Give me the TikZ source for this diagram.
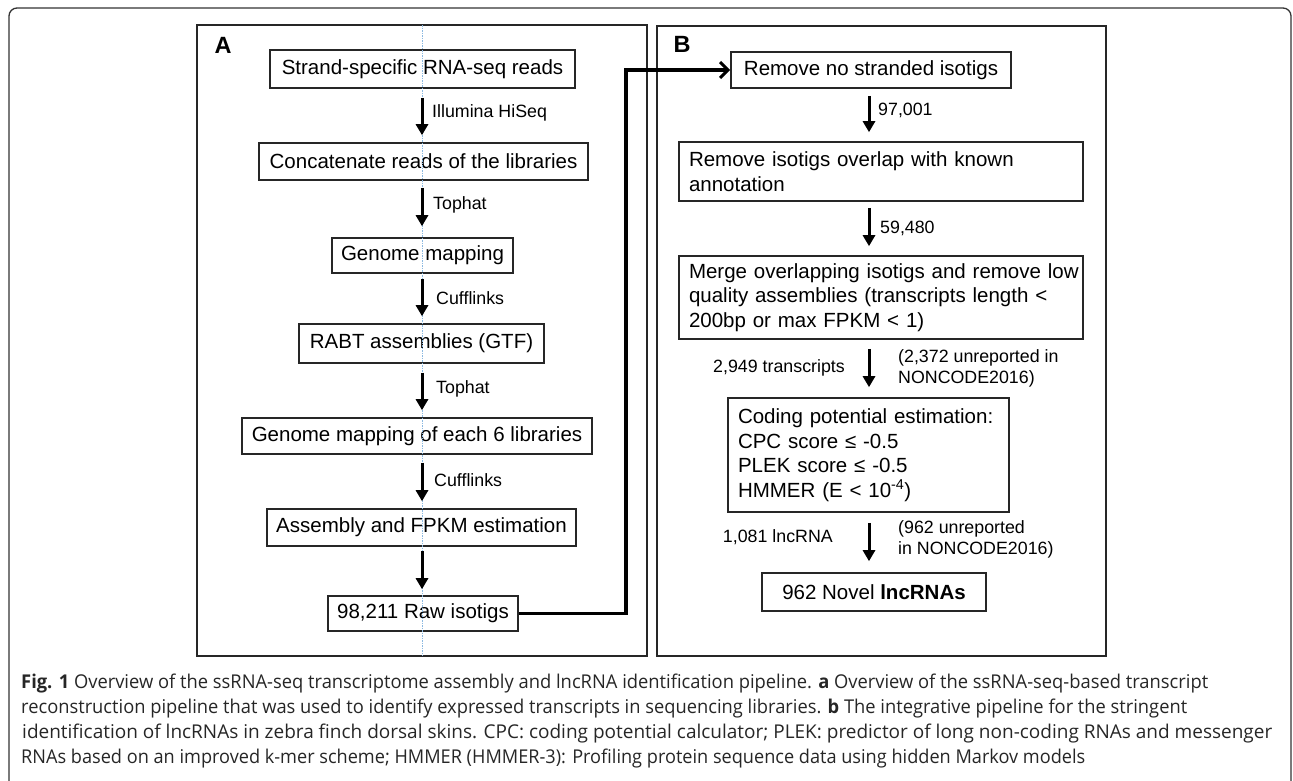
\documentclass[tikz,border=0pt]{standalone}
\usepackage{fontspec}
\setmainfont{Liberation Sans}
\newfontfamily\capfont{Open Sans}
\usepackage{graphicx}
\usetikzlibrary{arrows.meta}
\definecolor{guideblue}{RGB}{140,185,225}
\begin{document}
\begin{tikzpicture}[x=1pt,y=-1pt,
  frame/.style={draw=black!80, line width=1.3pt, rounded corners=8pt},
  panel/.style={draw=black!85, line width=1.8pt},
  box/.style={draw=black!85, line width=1.6pt, inner sep=0pt, font=\fontsize{20.5}{24.5}\selectfont},
  lbox/.style={box, align=left, inner xsep=10pt},
  arr/.style={line width=3pt, -{Triangle[width=12pt,length=11pt]}},
  lab/.style={font=\fontsize{17.8}{21}\selectfont, inner sep=0pt},
  plabel/.style={font=\bfseries\fontsize{23.5}{26}\selectfont, inner sep=0pt},
  link/.style={line width=3.5pt, -{Straight Barb[length=8pt,width=16pt,line width=3pt]}},
  capline/.style={font=\capfont\fontsize{19}{21}\selectfont, text=black!85, inner sep=0pt, anchor=west},
  guide/.style={draw=guideblue, line width=0.5pt, dash pattern=on 1.5pt off 1pt}
]
\useasboundingbox (0,0) rectangle (1293,780);
% outer frame
\draw[frame] (9,790) -- (9,8) -- (1291,8) -- (1291,790);
% panels
\draw[panel] (197,25) rectangle (647,656);
\draw[panel] (657,26) rectangle (1106,656);
\node[plabel] (LA) at (223,45) {A};
\node[plabel] (LB) at (682,44) {B};

\coordinate (ax) at (422,0);
\coordinate (bx) at (869,0);
\coordinate (cx) at (626,0);

% panel A
\node[box, minimum width=305pt, minimum height=38pt] (A1) at (422.5,69) {Strand-specific RNA-seq reads};
\node[box, minimum width=329pt, minimum height=37pt] (A2) at (423.5,161.5) {Concatenate reads of the libraries};
\node[box, minimum width=181pt, minimum height=35pt] (A3) at (422.5,255.5) {Genome mapping};
\node[box, minimum width=245pt, minimum height=39pt] (A4) at (421.5,343.5) {RABT assemblies (GTF)};
\node[box, minimum width=350pt, minimum height=36pt] (A5) at (417,436) {Genome mapping of each 6 libraries};
\node[box, minimum width=309pt, minimum height=37pt] (A6) at (421.5,527.5) {Assembly and FPKM estimation};
\node[box, minimum width=190pt, minimum height=35pt] (A7) at (423,613.5) {98,211 Raw isotigs};

% guide line (under the arrows)
\draw[guide] (422,25) -- (422,656);

\draw[arr, shorten <=9pt, shorten >=7pt] (A1.south -| ax) -- (A2.north -| ax);
\draw[arr, shorten <=7pt, shorten >=11pt] (A2.south -| ax) -- (A3.north -| ax);
\draw[arr, shorten <=5pt, shorten >=7pt] (A3.south -| ax) -- (A4.north -| ax);
\draw[arr, shorten <=9pt, shorten >=7pt] (A4.south -| ax) -- (A5.north -| ax);
\draw[arr, shorten <=8pt, shorten >=7pt] (A5.south -| ax) -- (A6.north -| ax);
\draw[arr, shorten <=4pt, shorten >=6pt] (A6.south -| ax) -- (A7.north -| ax);

\node[lab, anchor=west] (t1) at (432,113) {Illumina HiSeq};
\node[lab, anchor=west] (t2) at (433,205) {Tophat};
\node[lab, anchor=west] (t3) at (436,298) {Cufflinks};
\node[lab, anchor=west] (t4) at (436,389) {Tophat};
\node[lab, anchor=west] (t5) at (434,480) {Cufflinks};

% panel B
\node[box, minimum width=280pt, minimum height=36pt] (B1) at (871,70) {Remove no stranded isotigs};
\node[lbox, text width=384pt, minimum height=59pt] (B2) at (881,171.5) {\mbox{Remove isotigs overlap with known}\\\mbox{annotation}};
\node[lbox, text width=384pt, minimum height=83pt] (B3) at (881,297.5) {\mbox{Merge overlapping isotigs and remove low}\\\mbox{quality assemblies (transcripts length <}\\\mbox{200bp or max FPKM < 1)}};
\node[lbox, text width=261pt, minimum height=114pt] (B4) at (868.5,455) {Coding potential estimation:\\CPC score ≤ -0.5\\PLEK score ≤ -0.5\\HMMER (E < 10\textsuperscript{-4})};
\node[box, minimum width=224pt, minimum height=38pt] (B5) at (874,592) {962 Novel \textbf{lncRNAs}};

\draw[arr, shorten <=7pt, shorten >=9pt] (B1.south -| bx) -- (B2.north -| bx);
\draw[arr, shorten <=6pt, shorten >=9pt] (B2.south -| bx) -- (B3.north -| bx);
\draw[arr, shorten <=9pt, shorten >=10pt] (B3.south -| bx) -- (B4.north -| bx);
\draw[arr, shorten <=10pt, shorten >=11pt] (B4.south -| bx) -- (B5.north -| bx);

\node[lab, anchor=west] (n1) at (878,110) {97,001};
\node[lab, anchor=west] (n2) at (880,228) {59,480};
\node[lab, anchor=east] (n3) at (845,368) {2,949 transcripts};
\node[lab, anchor=west, align=left] (n4) at (898,368.5) {(2,372 unreported in\\NONCODE2016)};
\node[lab, anchor=east] (n5) at (833,537) {1,081 lncRNA};
\node[lab, anchor=west, align=left] (n6) at (898,539.5) {(962 unreported\\in NONCODE2016)};

% connector
\draw[link] (A7.east) -- (A7.east -| cx) -- (cx |- B1.west) -- (B1.west);

% caption
\node[capline] (c1) at (21,684) {\resizebox{1187pt}{\height}{\textbf{Fig. 1} Overview of the ssRNA-seq transcriptome assembly and lncRNA identification pipeline. \textbf{a} Overview of the ssRNA-seq-based transcript}};
\node[capline] (c2) at (21,709) {\resizebox{1166pt}{\height}{reconstruction pipeline that was used to identify expressed transcripts in sequencing libraries. \textbf{b} The integrative pipeline for the stringent}};
\node[capline] (c3) at (22,734) {\resizebox{1250pt}{\height}{identification of lncRNAs in zebra finch dorsal skins. CPC: coding potential calculator; PLEK: predictor of long non-coding RNAs and messenger}};
\node[capline] (c4) at (21,758) {\resizebox{1064pt}{\height}{RNAs based on an improved k-mer scheme; HMMER (HMMER-3): Profiling protein sequence data using hidden Markov models}};
\end{tikzpicture}
\end{document}
